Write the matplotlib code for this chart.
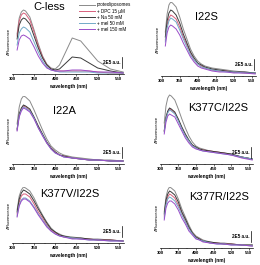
import matplotlib
matplotlib.use('Agg')
import matplotlib.pyplot as plt

plt.rcParams['font.family'] = ['Liberation Sans', 'DejaVu Sans']

# emission wavelengths (nm)
wl = [310, 315, 320, 325, 330, 340, 350, 360, 370, 380, 390, 400, 410, 420, 440, 460, 480, 500, 530, 560]

labels = ['proteoliposomes', '+ DPC 15 \u00b5M', '+ Na 50 mM', '+ mel 50 mM', '+ mel 150 mM']
colors = ['#8a8a8a', '#d8607c', '#3a3a3a', '#72aac8', '#9a4cc8']
titles = ['C-less', 'I22S', 'I22A', 'K377C/I22S', 'K377V/I22S', 'K377R/I22S']

# fluorescence (a.u.), order: proteo, DPC, Na, mel 50, mel 150
cless = [
    [40, 56, 62, 64, 63, 57, 44, 30, 18, 10, 6, 5, 9, 18, 36, 33, 23, 13, 5, 2],
    [38, 53, 59, 61, 60, 54, 42, 28, 17, 9, 5, 3, 3, 3, 3, 3, 3, 2, 1, 1],
    [35, 49, 54, 56, 55, 50, 38, 26, 16, 9, 5, 4, 5, 9, 17, 16, 11, 6, 3, 1],
    [29, 41, 45, 47, 46, 42, 32, 22, 13, 7, 4, 3, 2, 2, 2, 2, 2, 1, 1, 1],
    [24, 34, 38, 39, 38, 35, 27, 18, 11, 6, 4, 3, 3, 3, 4, 4, 3, 2, 2, 1],
]
i22s = [
    [44, 62, 71, 74, 73, 69, 59, 47, 37, 27, 20, 15, 12, 10, 8, 7, 6, 5, 4, 3],
    [36, 51, 58, 61, 60, 57, 49, 39, 31, 23, 16, 12, 10, 8, 6, 5, 5, 4, 3, 3],
    [39, 55, 63, 66, 65, 61, 53, 42, 33, 24, 18, 13, 11, 9, 7, 6, 5, 4, 4, 3],
    [34, 48, 55, 58, 57, 54, 46, 37, 29, 21, 16, 12, 9, 8, 6, 5, 4, 4, 3, 3],
    [30, 43, 49, 51, 50, 47, 41, 33, 26, 19, 14, 10, 8, 7, 5, 4, 4, 3, 3, 2],
]
i22a = [
    [40, 57, 65, 68, 67, 63, 54, 44, 34, 25, 18, 14, 11, 9, 7, 6, 5, 4, 4, 3],
    [34, 49, 55, 58, 57, 54, 46, 37, 29, 21, 16, 12, 9, 8, 6, 5, 4, 4, 3, 3],
    [35, 50, 56, 59, 58, 55, 47, 38, 30, 22, 16, 12, 9, 8, 6, 5, 4, 4, 3, 3],
    [34, 48, 54, 57, 56, 53, 46, 36, 29, 21, 15, 11, 9, 7, 6, 5, 4, 4, 3, 3],
    [33, 47, 53, 56, 55, 52, 45, 36, 28, 21, 15, 11, 9, 7, 6, 5, 4, 4, 3, 3],
]
k377c = [
    [41, 58, 66, 69, 68, 64, 55, 45, 36, 28, 22, 18, 16, 15, 13, 12, 11, 10, 7, 5],
    [33, 46, 52, 55, 54, 51, 44, 36, 29, 23, 19, 16, 15, 14, 13, 12, 11, 9, 7, 5],
    [33, 47, 53, 56, 55, 52, 45, 37, 30, 24, 19, 17, 15, 14, 13, 12, 11, 10, 7, 5],
    [32, 45, 51, 54, 53, 50, 43, 35, 28, 23, 18, 16, 14, 13, 12, 11, 10, 9, 7, 5],
    [30, 42, 48, 50, 49, 47, 40, 33, 26, 21, 17, 15, 14, 13, 12, 11, 10, 9, 6, 4],
]
k377v = [
    [33, 47, 53, 56, 55, 52, 45, 36, 28, 21, 15, 11, 9, 7, 6, 5, 4, 4, 3, 2],
    [29, 41, 47, 49, 49, 46, 39, 31, 25, 18, 13, 10, 8, 6, 5, 4, 4, 3, 3, 2],
    [31, 44, 50, 53, 52, 49, 42, 34, 27, 20, 14, 11, 8, 7, 5, 5, 4, 3, 3, 2],
    [27, 38, 43, 45, 45, 42, 36, 29, 23, 17, 12, 9, 7, 6, 5, 4, 3, 3, 2, 2],
    [26, 37, 42, 44, 44, 41, 35, 28, 22, 16, 12, 9, 7, 6, 4, 4, 3, 3, 2, 2],
]
k377r = [
    [36, 51, 58, 61, 60, 57, 49, 39, 31, 23, 16, 12, 10, 8, 6, 5, 5, 4, 3, 3],
    [32, 45, 51, 54, 53, 50, 43, 35, 27, 20, 15, 11, 9, 7, 5, 5, 4, 4, 3, 2],
    [34, 48, 54, 57, 56, 53, 46, 36, 29, 21, 15, 11, 9, 7, 6, 5, 4, 4, 3, 3],
    [30, 43, 49, 51, 50, 47, 41, 33, 26, 19, 14, 10, 8, 7, 5, 4, 4, 3, 3, 2],
    [28, 40, 45, 47, 47, 44, 38, 30, 24, 17, 13, 9, 8, 6, 5, 4, 4, 3, 3, 2],
]
panels = [cless, i22s, i22a, k377c, k377v, k377r]

xticks = [300, 350, 400, 450, 500, 550]
scale_label = '2E5 a.u.'

W, H = 260, 265
fig = plt.figure(figsize=(W / 100, H / 100), dpi=100)

# axes boxes in pixels: left, right, top, bottom
boxes = [(12, 124, 8, 74), (161, 256, 2, 76),
         (12, 124, 96, 164), (160, 253, 94, 164),
         (12, 124, 187, 243), (160, 253, 187, 248)]
title_pos = [(0.33, 1.02), (0.48, 0.80), (0.47, 0.78), (0.62, 0.80), (0.52, 0.88), (0.64, 0.84)]

for k, (l, r, t, b) in enumerate(boxes):
    ax = fig.add_axes([l / W, 1 - b / H, (r - l) / W, (b - t) / H])
    for s, c, lab in zip(panels[k], colors, labels):
        ax.plot(wl, s, color=c, lw=0.7, label=lab)
    ax.set_xlim(298, 562)
    ax.set_ylim(0, b - t)
    for sp in ['top', 'right', 'left']:
        ax.spines[sp].set_visible(False)
    ax.spines['bottom'].set_linewidth(0.5)
    ax.set_yticks([])
    ax.set_xticks(xticks)
    ax.set_xticks(range(325, 575, 50), minor=True)
    ax.tick_params(axis='x', labelsize=3.2, length=1.5, width=0.4, pad=1)
    ax.tick_params(axis='x', which='minor', length=1, width=0.3)
    for tl in ax.get_xticklabels():
        tl.set_fontweight('bold')
    ax.set_xlabel('wavelength (nm)', fontsize=3.4, fontweight='bold', labelpad=1.5)
    ax.set_ylabel('\u0394Fluorescence', fontsize=3, labelpad=1)
    tx, ty = title_pos[k]
    ax.text(tx, ty, titles[k], transform=ax.transAxes, fontsize=8,
            ha='center', va='center')
    # scale bar
    ax.plot([557, 557], [6, 17], color='black', lw=0.5)
    ax.text(553, 11.5, scale_label, fontsize=3.3, fontweight='bold', ha='right', va='center')
    if k == 0:
        ax.legend(loc='upper left', bbox_to_anchor=(0.58, 1.12), fontsize=3.3,
                  frameon=False, handlelength=3.5, handletextpad=0.4,
                  labelspacing=0.25, borderpad=0)

fig.savefig('out.png', dpi=100)
